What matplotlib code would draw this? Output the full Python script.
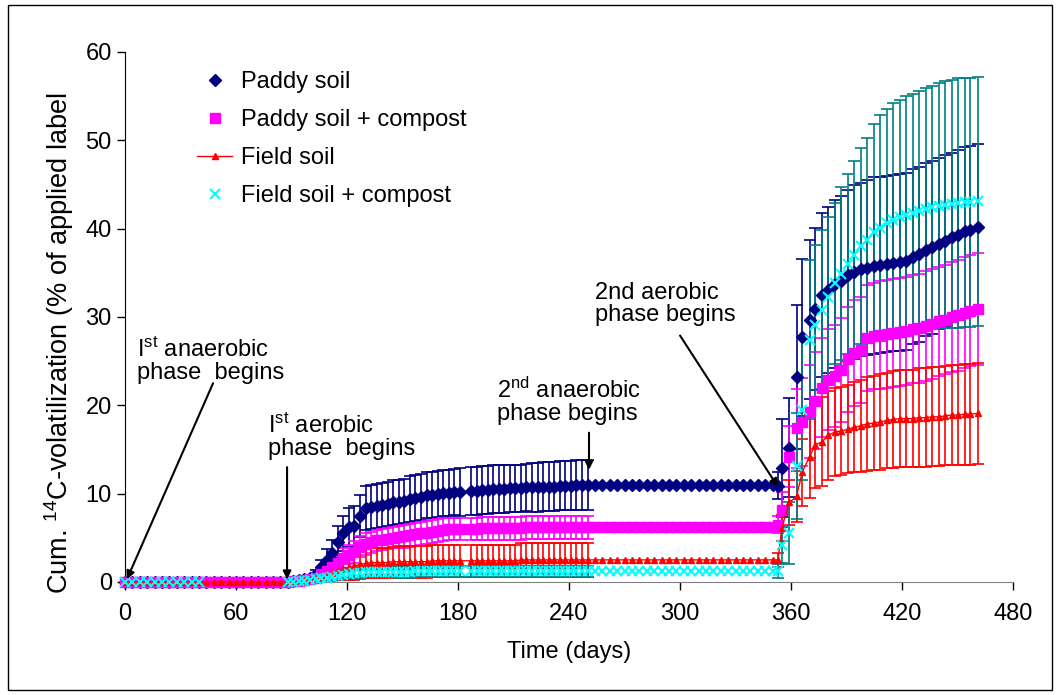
import numpy as np
import matplotlib
matplotlib.use("Agg")

import matplotlib.pyplot as plt
from matplotlib.patches import Rectangle

plt.rcParams['font.family'] = ['Liberation Sans', 'DejaVu Sans']
plt.rcParams['mathtext.fontset'] = 'custom'
plt.rcParams['mathtext.rm'] = 'Liberation Sans'
plt.rcParams['mathtext.it'] = 'Liberation Sans:italic'

# sampling days, per incubation phase
days_a = [0, 4, 8, 12, 16, 20, 24, 28, 32, 36, 40, 44, 48, 52, 56, 60, 64, 68, 72, 76, 80, 84, 88]
days_a_fc = [0, 4, 8, 12, 16, 20, 24, 28, 32, 36, 40, 88]
days_b = [91, 94, 97, 100, 103, 106, 109, 112, 115, 118, 121, 124, 127, 130, 133, 136, 139, 142,
          145, 148, 151, 154, 157, 160, 163, 166, 169, 172, 175, 178, 181, 187, 190, 193, 196, 199,
          202, 205, 208, 211, 214, 217, 220, 223, 226, 229, 232, 235, 238, 241, 244, 247, 250]
days_c = [254, 258, 262, 266, 270, 274, 278, 282, 286, 290, 294, 298, 302, 306, 310, 314, 318,
          322, 326, 330, 334, 338, 342, 346, 350]
days_d = [353, 355, 359, 363, 366, 370, 373, 377, 380, 384, 387, 391, 394, 398, 401, 405, 408,
          412, 415, 419, 422, 426, 429, 433, 436, 440, 443, 447, 450, 454, 457, 461]

# Paddy soil
paddy_b = [0.1, 0.2, 0.3, 0.5, 0.9, 1.7, 2.5, 3.3, 4.5, 5.5, 6.2, 6.3, 7.5, 8.4, 8.5, 8.6, 8.7, 8.8,
           9.0, 9.1, 9.2, 9.4, 9.5, 9.6, 9.8, 9.9, 10.0, 10.1, 10.1, 10.2, 10.2, 10.3, 10.3, 10.4,
           10.4, 10.5, 10.5, 10.5, 10.6, 10.6, 10.6, 10.7, 10.7, 10.7, 10.8, 10.8, 10.8, 10.9, 10.9,
           10.9, 11.0, 11.0, 11.0]
paddy_b_err = [0.1, 0.1, 0.2, 0.3, 0.5, 0.8, 1.2, 1.5, 1.8, 2.0, 2.2, 2.3, 2.4, 2.5, 2.5, 2.5, 2.5,
               2.5, 2.5, 2.5, 2.5, 2.6, 2.6, 2.6, 2.6, 2.6, 2.6, 2.6, 2.6, 2.6, 2.7, 2.7, 2.7, 2.7,
               2.7, 2.7, 2.7, 2.7, 2.7, 2.7, 2.7, 2.7, 2.8, 2.8, 2.8, 2.8, 2.8, 2.8, 2.8, 2.8, 2.8,
               2.8, 2.8]
paddy_c = [11.0] * 25
paddy_d = [10.9, 12.9, 15.2, 23.2, 27.7, 29.7, 30.9, 32.5, 33.1, 33.7, 34.1, 34.7, 35.1, 35.4, 35.6,
           35.8, 35.9, 36.0, 36.1, 36.2, 36.3, 36.8, 37.1, 37.6, 37.9, 38.3, 38.6, 39.0, 39.3, 39.7,
           39.9, 40.2]
paddy_d_err = [1.5, 5.5, 5.6, 8.2, 8.9, 9.0, 9.2, 9.3, 9.4, 9.5, 9.6, 9.7, 9.8, 9.8, 9.9, 10.0,
               10.0, 10.0, 10.0, 10.0, 10.0, 9.9, 9.9, 9.8, 9.8, 9.7, 9.7, 9.6, 9.6, 9.5, 9.5, 9.4]

# Paddy soil + compost
pcomp_b = [0.1, 0.15, 0.2, 0.3, 0.5, 0.9, 1.3, 1.7, 2.2, 2.7, 3.1, 3.4, 4.0, 4.3, 4.5, 4.7, 4.8,
           4.9, 5.0, 5.1, 5.2, 5.3, 5.4, 5.5, 5.6, 5.7, 5.8, 5.9, 6.0, 6.0, 6.0, 6.0, 6.0, 6.1,
           6.1, 6.1, 6.1, 6.1, 6.1, 6.1, 6.1, 6.2, 6.2, 6.2, 6.2, 6.2, 6.2, 6.2, 6.2, 6.2, 6.2,
           6.2, 6.2]
pcomp_b_err = [0.1, 0.1, 0.1, 0.2, 0.3, 0.5, 0.7, 0.9, 1.0, 1.1, 1.1, 1.2, 1.2, 1.2, 1.2, 1.2,
               1.2, 1.2, 1.2, 1.2, 1.3, 1.3, 1.3, 1.3, 1.3, 1.3, 1.3, 1.3, 1.3, 1.3, 1.3, 1.3, 1.3,
               1.3, 1.3, 1.3, 1.3, 1.3, 1.3, 1.3, 1.3, 1.3, 1.3, 1.3, 1.3, 1.3, 1.3, 1.3, 1.3, 1.3,
               1.3, 1.3, 1.3]
pcomp_c = [6.2] * 25
pcomp_d = [6.5, 8.2, 14.2, 17.4, 18.1, 19.3, 20.5, 22.0, 22.9, 23.3, 24.0, 25.2, 25.9, 26.3, 27.6,
           27.8, 28.0, 28.1, 28.2, 28.3, 28.4, 28.6, 28.7, 29.0, 29.2, 29.5, 29.7, 30.0, 30.2,
           30.5, 30.7, 30.9]
pcomp_d_err = [1.0, 2.0, 3.5, 4.5, 5.0, 5.3, 5.5, 5.6, 5.7, 5.8, 5.9, 5.9, 6.0, 6.0, 6.0, 6.0,
               6.1, 6.1, 6.1, 6.1, 6.1, 6.1, 6.2, 6.2, 6.2, 6.2, 6.2, 6.2, 6.3, 6.3, 6.3, 6.3]

# Field soil
field_b = [0.05, 0.1, 0.15, 0.25, 0.4, 0.6, 0.8, 1.0, 1.3, 1.5, 1.7, 1.8, 2.0, 2.1, 2.2, 2.2, 2.2,
           2.2, 2.3, 2.3, 2.3, 2.3, 2.3, 2.3, 2.3, 2.4, 2.4, 2.4, 2.4, 2.4, 2.4, 2.4, 2.4, 2.4,
           2.4, 2.4, 2.4, 2.4, 2.4, 2.4, 2.5, 2.5, 2.5, 2.5, 2.5, 2.5, 2.5, 2.5, 2.5, 2.5, 2.5,
           2.5, 2.5]
field_b_err = [0.05, 0.1, 0.1, 0.2, 0.3, 0.5, 0.7, 0.9, 1.1, 1.3, 1.5, 1.6, 1.7, 1.7, 1.7, 1.7,
               1.7, 1.7, 1.7, 1.8, 1.8, 1.8, 1.8, 1.8, 1.8, 1.8, 1.8, 1.8, 1.8, 1.8, 1.8, 1.8, 1.8,
               1.8, 1.8, 1.8, 1.8, 1.8, 1.8, 1.8, 1.9, 1.9, 1.9, 1.9, 1.9, 1.9, 1.9, 1.9, 1.9, 1.9,
               1.9, 1.9, 1.9]
field_c = [2.5] * 25
field_d = [2.5, 6.1, 9.0, 9.7, 12.4, 14.2, 15.5, 15.9, 16.6, 17.0, 17.1, 17.3, 17.5, 17.7, 17.9,
           18.0, 18.1, 18.3, 18.4, 18.5, 18.5, 18.5, 18.6, 18.6, 18.7, 18.7, 18.8, 18.9, 18.9,
           19.0, 19.0, 19.1]
field_d_err = [0.8, 1.5, 2.5, 2.9, 3.8, 4.7, 4.9, 5.0, 5.0, 5.0, 5.0, 5.0, 5.1, 5.2, 5.3, 5.3,
               5.4, 5.4, 5.5, 5.5, 5.5, 5.5, 5.6, 5.6, 5.6, 5.6, 5.6, 5.7, 5.7, 5.7, 5.7, 5.7]

# Field soil + compost
fcomp_b = [0.05, 0.1, 0.15, 0.2, 0.3, 0.4, 0.5, 0.6, 0.7, 0.8, 0.9, 1.0, 1.0, 1.1, 1.1, 1.1, 1.1,
           1.1, 1.1, 1.1, 1.1, 1.1, 1.2, 1.2, 1.2, 1.2, 1.2, 1.2, 1.2, 1.2, 1.2, 1.2, 1.2, 1.2,
           1.2, 1.2, 1.2, 1.2, 1.2, 1.2, 1.2, 1.2, 1.2, 1.2, 1.2, 1.2, 1.2, 1.2, 1.2, 1.2, 1.2,
           1.2, 1.2]
fcomp_b_err = [0.05, 0.05, 0.1, 0.1, 0.15, 0.2, 0.25, 0.3, 0.35, 0.4, 0.45, 0.5, 0.5, 0.55, 0.55,
               0.55, 0.55, 0.55, 0.55, 0.6, 0.6, 0.6, 0.6, 0.6, 0.6, 0.6, 0.6, 0.6, 0.6, 0.6, 0.6,
               0.6, 0.6, 0.6, 0.6, 0.6, 0.6, 0.6, 0.6, 0.6, 0.6, 0.6, 0.6, 0.6, 0.6, 0.6, 0.6, 0.6,
               0.6, 0.6, 0.6, 0.6, 0.6]
fcomp_c = [1.2] * 25
fcomp_d = [1.2, 4.2, 5.5, 13.1, 19.5, 27.4, 29.1, 30.8, 32.3, 33.8, 34.9, 36.0, 37.0, 38.0, 38.7,
           39.6, 40.1, 40.6, 41.0, 41.3, 41.6, 41.8, 42.0, 42.2, 42.4, 42.6, 42.7, 42.8, 42.9,
           43.0, 43.0, 43.1]
fcomp_d_err = [0.8, 2.0, 3.5, 6.0, 8.0, 9.0, 9.0, 9.0, 9.0, 9.1, 9.8, 10.2, 10.7, 11.1, 11.6, 12.2,
               12.8, 13.0, 13.2, 13.3, 13.4, 13.5, 13.6, 13.7, 13.8, 13.9, 14.0, 14.0, 14.1, 14.1,
               14.1, 14.1]

labels = ["Paddy soil", "Paddy soil + compost", "Field soil", "Field soil + compost"]


def build(days_first, vals_b, err_b, vals_c, vals_d, err_d):
    d = np.array(days_first + days_b + days_c + days_d, dtype=float)
    v = np.array([0.0] * len(days_first) + vals_b + vals_c + vals_d)
    # no error bars drawn during phase A and the 2nd anaerobic phase
    e = np.array([np.nan] * len(days_first) + err_b + [np.nan] * len(days_c) + err_d)
    return d, v, e


data = [
    build(days_a, paddy_b, paddy_b_err, paddy_c, paddy_d, paddy_d_err),
    build(days_a, pcomp_b, pcomp_b_err, pcomp_c, pcomp_d, pcomp_d_err),
    build(days_a, field_b, field_b_err, field_c, field_d, field_d_err),
    build(days_a_fc, fcomp_b, fcomp_b_err, fcomp_c, fcomp_d, fcomp_d_err),
]

styles = [
    dict(marker="D", color="#000080", ms=6, ls="none"),
    dict(marker="s", color="#ff00ff", ms=7, ls="none"),
    dict(marker="^", color="#ff0000", ms=5, ls="-", lw=1),
    dict(marker="x", color="#00ffff", ms=7, mew=1.5, ls="none"),
]
err_colors = ["#000080", "#ff00ff", "#ff0000", "#008080"]

fig = plt.figure(figsize=(10.62, 6.95), dpi=100)
ax = fig.add_axes([0.1177, 0.1626, 0.8362, 0.7626])

for (d, v, e), ec in zip(data, err_colors):
    ax.errorbar(d, v, yerr=e, fmt="none", ecolor=ec, elinewidth=1.2,
                capsize=4.5, capthick=1.2, zorder=2)

handles = []
for (d, v, e), st, lab in zip(data, styles, labels):
    ln, = ax.plot(d, v, label=lab, clip_on=False, zorder=3, **st)
    handles.append(ln)

ax.set_xlim(0, 480)
ax.set_ylim(0, 60)
ax.set_xticks(range(0, 481, 60))
ax.set_yticks(range(0, 61, 10))
ax.spines["top"].set_visible(False)
ax.spines["right"].set_visible(False)
ax.spines["bottom"].set_color("#808080")
ax.tick_params(axis="both", direction="out", length=6, width=1, labelsize=17, color="black")
ax.tick_params(axis="x", pad=9)

ax.set_xlabel("Time (days)", fontsize=17, labelpad=12)
ax.set_ylabel("Cum. $^{\\mathrm{14}}$C-volatilization (% of applied label", fontsize=19.5)
ax.yaxis.set_label_coords(-0.055, 0.45)

leg = ax.legend(handles=handles, loc="upper left", bbox_to_anchor=(197 / 1062, 1 - 71 / 695),
                bbox_transform=fig.transFigure, frameon=False, fontsize=17, handlelength=1.5,
                handletextpad=0.35, labelspacing=0.68, borderpad=0, borderaxespad=0)

arrow = dict(arrowstyle="-|>", color="black", lw=1.5, mutation_scale=12, shrinkA=0, shrinkB=0)
txt = dict(fontsize=17, ha="left", va="top", linespacing=1.0)

ax.text(6.5, 27.7, "I$^{\\mathrm{st}}$ anaerobic\nphase  begins", **txt)
ax.annotate("", xy=(1, 0.3), xytext=(47.6, 22.5), arrowprops=arrow, annotation_clip=False)

ax.text(77.3, 19.0, "I$^{\\mathrm{st}}$ aerobic\nphase  begins", **txt)
ax.annotate("", xy=(87.6, 0.3), xytext=(87.6, 13.0), arrowprops=arrow)

ax.text(201, 23.1, "2$^{\\mathrm{nd}}$ anaerobic\nphase begins", **txt)
ax.annotate("", xy=(250.8, 12.7), xytext=(250.8, 16.9), arrowprops=arrow)

ax.text(254, 34.0, "2nd aerobic\nphase begins", **txt)
ax.annotate("", xy=(353, 10.75), xytext=(300, 27.9), arrowprops=arrow)

fig.patches.append(Rectangle((8 / 1062, 5 / 695), 1044 / 1062, 685 / 695, transform=fig.transFigure,
                             fill=False, edgecolor="black", lw=1))

fig.savefig("out.png", dpi=100, facecolor="white")
